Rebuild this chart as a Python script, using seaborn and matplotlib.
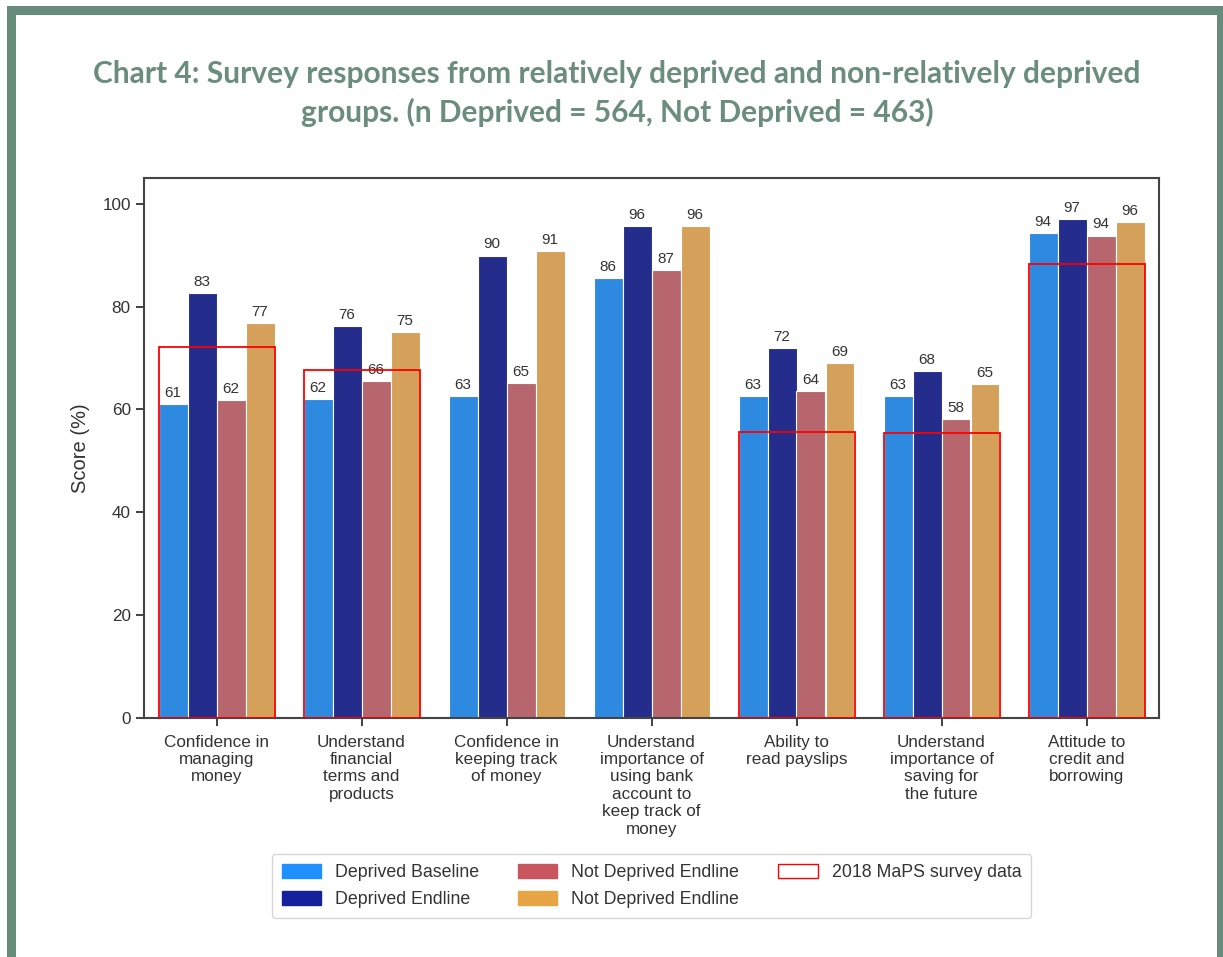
import numpy as np
import pandas as pd
import matplotlib
matplotlib.use("Agg")
import matplotlib.pyplot as plt
from matplotlib.patches import Patch, Rectangle
import seaborn as sns

# categories along the x axis
categories = [
    "Confidence in\nmanaging\nmoney",
    "Understand\nfinancial\nterms and\nproducts",
    "Confidence in\nkeeping track\nof money",
    "Understand\nimportance of\nusing bank\naccount to\nkeep track of\nmoney",
    "Ability to\nread payslips",
    "Understand\nimportance of\nsaving for\nthe future",
    "Attitude to\ncredit and\nborrowing",
]

# series values (%)
deprived_baseline = [61.0, 62.0, 62.6, 85.6, 62.6, 62.6, 94.3]
deprived_endline = [82.7, 76.2, 89.9, 95.6, 71.9, 67.5, 97.0]
not_deprived_a = [61.8, 65.5, 65.1, 87.1, 63.6, 58.1, 93.8]
not_deprived_b = [76.8, 75.0, 90.8, 95.6, 69.0, 64.9, 96.4]
maps_2018 = [72.1, 67.6, np.nan, np.nan, 55.7, 55.4, 88.3]

series_names = ["Deprived Baseline", "Deprived Endline", "Not Deprived A", "Not Deprived B"]
legend_labels = ["Deprived Baseline", "Deprived Endline", "Not Deprived Endline", "Not Deprived Endline"]
bar_colors = ["#2e8ae0", "#242d8c", "#b8666e", "#d4a05a"]
legend_colors = ["#1e90ff", "#14209c", "#c9565f", "#e8a545"]

df = pd.DataFrame({
    "category": categories * 4,
    "series": np.repeat(series_names, len(categories)),
    "score": deprived_baseline + deprived_endline + not_deprived_a + not_deprived_b,
})

sns.set_theme(style="ticks")
plt.rcParams["font.family"] = ["Liberation Sans", "DejaVu Sans"]

W, H = 1223, 957
fig = plt.figure(figsize=(W / 100, H / 100), dpi=100)
ax = fig.add_axes([144 / W, 1 - 718 / H, (1159 - 144) / W, (718 - 178) / H])

sns.barplot(data=df, x="category", y="score", hue="series", hue_order=series_names,
            palette=bar_colors, saturation=1, edgecolor="white", linewidth=0.8,
            ax=ax, legend=False)

for cont in ax.containers:
    vals = cont.datavalues
    ax.bar_label(cont, labels=[f"{v:.0f}" for v in vals], padding=3,
                 fontsize=11, color="#333333")

# 2018 MaPS outline boxes
ax.bar(np.arange(len(categories)), maps_2018, width=0.8, fill=False,
       edgecolor="red", linewidth=1.3, zorder=5)

ax.set_ylim(0, 105)
ax.set_xlim(-0.5, len(categories) - 0.5)
ax.set_yticks([0, 20, 40, 60, 80, 100])
ax.set_xlabel("")
ax.set_ylabel("Score (%)", fontsize=14.5, color="#333333", labelpad=9)
ax.tick_params(axis="both", labelsize=12.3, colors="#333333", length=6, width=1.3)
ax.tick_params(axis="x", pad=6)
for s in ax.spines.values():
    s.set_visible(True)
    s.set_color("#444444")
    s.set_linewidth(1.5)

handles = [Patch(facecolor=c, edgecolor=c, label=l) for c, l in zip(legend_colors, legend_labels)]
handles.append(Patch(facecolor="white", edgecolor="red", label="2018 MaPS survey data"))
leg = ax.legend(handles=handles, ncol=3, loc="upper center", bbox_to_anchor=(0.5, -0.236),
                fontsize=12.8, frameon=True, fancybox=True, handlelength=2.2,
                handleheight=0.8, handletextpad=0.8, columnspacing=2.2,
                borderpad=0.55, labelspacing=0.55)
leg.get_frame().set_edgecolor("#cccccc")
for t in leg.get_texts():
    t.set_color("#333333")

fig.suptitle("Chart 4: Survey responses from relatively deprived and non-relatively deprived\n"
             "groups. (n Deprived = 564, Not Deprived = 463)",
             x=617 / W, y=1 - 60 / H, va="top", fontsize=21.5, fontweight="bold",
             color="#6a8d7d", family=["Lato", "DejaVu Sans"], linespacing=1.42)

# green page frame
frame = "#678c7c"
for x0, y0, w, h in [(7, 6, W - 7, 9), (7, 6, 9, H - 6), (1217, 6, W - 1217, H - 6)]:
    fig.add_artist(Rectangle((x0 / W, 1 - (y0 + h) / H), w / W, h / H,
                             transform=fig.transFigure, color=frame, lw=0))

fig.savefig("out.png", dpi=100)
